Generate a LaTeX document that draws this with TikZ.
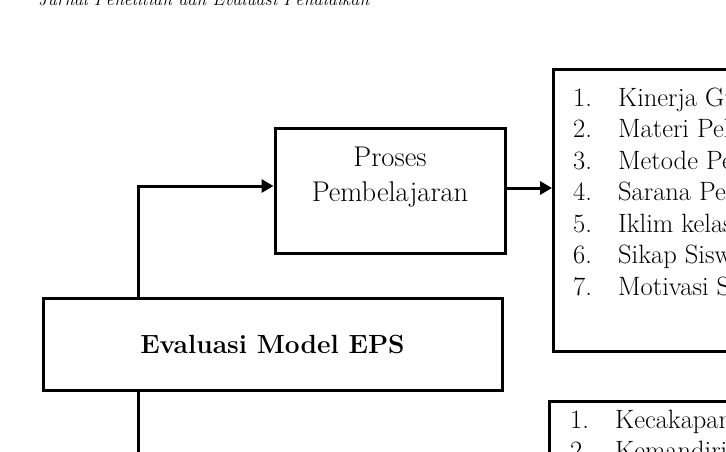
\documentclass[tikz,border=0pt]{standalone}
\usetikzlibrary{arrows.meta}
\begin{document}
\begin{tikzpicture}[x=1pt,y=-1pt,
  box/.style={draw,line width=3pt,rectangle,inner sep=0pt},
  arr/.style={line width=3pt,-{Triangle[length=12pt,width=13pt]}},
  conn/.style={line width=3pt},
  listtxt/.style={anchor=base west,inner sep=0pt,font=\fontsize{26.5}{31.5}\selectfont}]
\useasboundingbox (0,0) rectangle (726,452);
\clip (0,0) rectangle (726,452);
\fill[white] (0,0) rectangle (726,452);
% header
\node[anchor=base west,inner sep=0pt,font=\fontsize{18}{20}\itshape] (hdr) at (38,6) {Jurnal Penelitian dan Evaluasi Pendidikan};
% boxes
\node[box,minimum width=230pt,minimum height=125pt] (proses) at (390,190.5) {};
\node[inner sep=0pt,align=center,font=\fontsize{28.5}{35}\selectfont] (prosestxt) at (390,177) {Proses\\Pembelajaran};
\node[box,minimum width=459pt,minimum height=92pt,font=\fontsize{26.3}{30}\selectfont\bfseries] (eval) at (272.5,344) {Evaluasi Model EPS};
\node[box,anchor=north west,minimum width=300pt,minimum height=282pt] (list1) at (552,68) {};
\node[box,anchor=north west,minimum width=300pt,minimum height=200pt] (list2) at (548,400) {};
% list texts
\node[listtxt] (l1) at (573,106.5) {\begin{tabular}[t]{@{}p{45pt}@{}l@{}}
1. & Kinerja Guru\\
2. & Materi Pelajaran\\
3. & Metode Pembelajaran\\
4. & Sarana Pembelajaran\\
5. & Iklim kelas\\
6. & Sikap Siswa\\
7. & Motivasi Siswa
\end{tabular}};
\node[listtxt] (l2) at (570,428) {\begin{tabular}[t]{@{}p{45pt}@{}l@{}}
1. & Kecakapan\\
2. & Kemandirian
\end{tabular}};
% connectors
\coordinate (c1) at (138,186);
\coordinate (c2) at (138,470);
\draw[arr] (eval.north -| c1) -- (c1) -- (c1 -| proses.west);
\draw[arr] ([yshift=2.5pt]proses.east) -- ([yshift=2.5pt]proses.east -| list1.west);
\draw[conn] (eval.south -| c2) -- (c2);
\end{tikzpicture}
\end{document}
